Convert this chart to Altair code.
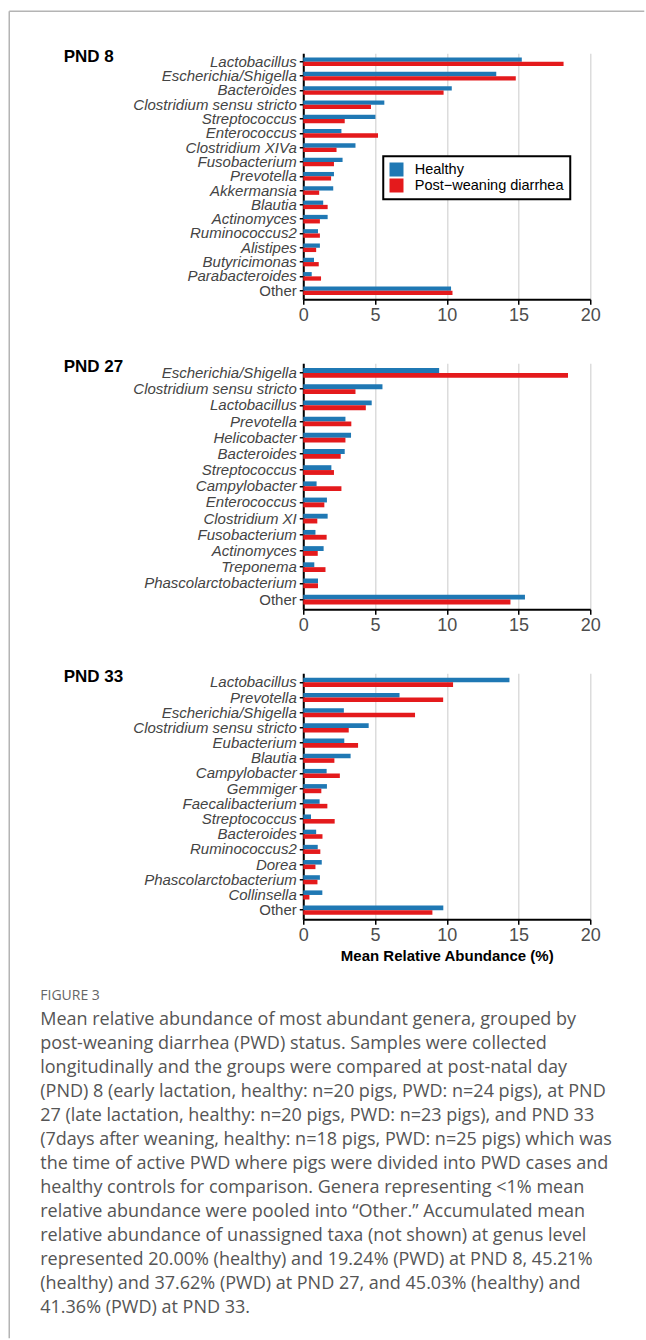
import altair as alt
import pandas as pd

# Group labels (legend order: healthy first, PWD second)
groups = ["Healthy", "Post\u2212weaning diarrhea"]
group_colors = ["#1f78b4", "#e41a1c"]

# PND 8
pnd8_genera = [
    "Lactobacillus", "Escherichia/Shigella", "Bacteroides", "Clostridium sensu stricto",
    "Streptococcus", "Enterococcus", "Clostridium XIVa", "Fusobacterium", "Prevotella",
    "Akkermansia", "Blautia", "Actinomyces", "Ruminococcus2", "Alistipes",
    "Butyricimonas", "Parabacteroides", "Other",
]
pnd8_healthy = [15.23, 13.45, 10.35, 5.65, 5.03, 2.66, 3.64, 2.74, 2.14, 2.09, 1.39, 1.70, 1.03, 1.16, 0.75, 0.59, 10.30]
pnd8_pwd = [18.14, 14.81, 9.78, 4.72, 2.89, 5.21, 2.32, 2.14, 1.94, 1.11, 1.70, 1.16, 1.16, 0.90, 1.08, 1.24, 10.40]

# PND 27
pnd27_genera = [
    "Escherichia/Shigella", "Clostridium sensu stricto", "Lactobacillus", "Prevotella",
    "Helicobacter", "Bacteroides", "Streptococcus", "Campylobacter", "Enterococcus",
    "Clostridium XI", "Fusobacterium", "Actinomyces", "Treponema",
    "Phascolarctobacterium", "Other",
]
pnd27_healthy = [9.47, 5.52, 4.77, 2.94, 3.33, 2.89, 1.96, 0.93, 1.65, 1.70, 0.85, 1.42, 0.77, 1.03, 15.45]
pnd27_pwd = [18.45, 3.64, 4.36, 3.35, 2.94, 2.61, 2.14, 2.66, 1.47, 0.98, 1.63, 1.01, 1.55, 1.03, 14.44]

# PND 33
pnd33_genera = [
    "Lactobacillus", "Prevotella", "Escherichia/Shigella", "Clostridium sensu stricto",
    "Eubacterium", "Blautia", "Campylobacter", "Gemmiger", "Faecalibacterium",
    "Streptococcus", "Bacteroides", "Ruminococcus2", "Dorea", "Phascolarctobacterium",
    "Collinsella", "Other",
]
pnd33_healthy = [14.37, 6.71, 2.83, 4.56, 2.86, 3.30, 1.63, 1.65, 1.14, 0.54, 0.90, 1.01, 1.29, 1.16, 1.33, 9.76]
pnd33_pwd = [10.44, 9.75, 7.79, 3.17, 3.82, 2.17, 2.55, 1.26, 1.68, 2.19, 1.34, 1.19, 0.85, 0.99, 0.43, 9.00]

x_ticks = [0, 5, 10, 15, 20]

caption_head = "FIGURE 3"
caption_lines = [
    "Mean relative abundance of most abundant genera, grouped by",
    "post-weaning diarrhea (PWD) status. Samples were collected",
    "longitudinally and the groups were compared at post-natal day",
    "(PND) 8 (early lactation, healthy: n=20 pigs, PWD: n=24 pigs), at PND",
    "27 (late lactation, healthy: n=20 pigs, PWD: n=23 pigs), and PND 33",
    "(7days after weaning, healthy: n=18 pigs, PWD: n=25 pigs) which was",
    "the time of active PWD where pigs were divided into PWD cases and",
    "healthy controls for comparison. Genera representing <1% mean",
    "relative abundance were pooled into \u201cOther.\u201d Accumulated mean",
    "relative abundance of unassigned taxa (not shown) at genus level",
    "represented 20.00% (healthy) and 19.24% (PWD) at PND 8, 45.21%",
    "(healthy) and 37.62% (PWD) at PND 27, and 45.03% (healthy) and",
    "41.36% (PWD) at PND 33.",
]

FONT = "Liberation Sans"
CAP_FONT = "Open Sans"
PW, PH = 287, 246


def panel(name, genera, healthy, pwd, show_legend=False, x_title=None):
    df = pd.DataFrame({
        "genus": genera * 2,
        "group": [groups[0]] * len(genera) + [groups[1]] * len(genera),
        "value": healthy + pwd,
    })
    if show_legend:
        legend = alt.Legend(
            title=None, orient="none", legendX=80, legendY=103, direction="vertical",
            symbolType="square", symbolSize=196, symbolStrokeWidth=0, symbolOpacity=1,
            labelFont=FONT, labelFontSize=14.5, labelColor="black", labelOffset=11,
            rowPadding=0, padding=6, strokeColor="black", fillColor="white",
        )
    else:
        legend = None
    x_axis = alt.Axis(
        values=x_ticks, grid=True, gridColor="#dcdcdc", gridWidth=1.5,
        domainColor="black", domainWidth=2, tickColor="black", tickWidth=1.5, tickSize=5,
        labelFont=FONT, labelFontSize=18, labelColor="#4d4d4d", labelPadding=2,
        labelFlush=False, title=x_title, titleFont=FONT, titleFontSize=15,
        titleFontWeight="bold", titleColor="black", titlePadding=4,
    )
    y_axis = alt.Axis(
        title=name, titleAngle=0, titleX=-240, titleY=8, titleAlign="left",
        titleBaseline="alphabetic", titleFont=FONT, titleFontSize=17,
        titleFontWeight="bold", titleColor="black",
        labelFont=FONT, labelFontSize=15, labelColor="#444444", labelPadding=3,
        labelFontStyle={"condition": {"test": "datum.value === 'Other'", "value": "normal"}, "value": "italic"},
        labelLimit=0, tickColor="black", tickSize=4, tickWidth=1.5,
        domainColor="black", domainWidth=2, grid=False,
    )
    return alt.Chart(df).mark_bar().encode(
        x=alt.X("value:Q", scale=alt.Scale(domain=[0, 20], nice=False), axis=x_axis),
        y=alt.Y("genus:N", sort=genera, scale=alt.Scale(paddingInner=0.4, paddingOuter=0.3), axis=y_axis),
        yOffset=alt.YOffset("group:N", sort=groups, scale=alt.Scale(paddingInner=0, paddingOuter=0)),
        color=alt.Color("group:N", sort=groups, scale=alt.Scale(domain=groups, range=group_colors), legend=legend),
    ).properties(width=PW, height=PH)


p1 = panel("PND 8", pnd8_genera, pnd8_healthy, pnd8_pwd, show_legend=True)
p2 = panel("PND 27", pnd27_genera, pnd27_healthy, pnd27_pwd)
p3 = panel("PND 33", pnd33_genera, pnd33_healthy, pnd33_pwd, x_title="Mean Relative Abundance (%)")

# Caption block below the panels, plus the thin page frame
cap_df = pd.DataFrame({"i": list(range(len(caption_lines))), "line": caption_lines})
cap_text = alt.Chart(cap_df).mark_text(
    align="left", baseline="middle", font=CAP_FONT, fontSize=18, color="#555555"
).encode(
    x=alt.value(-263),
    y=alt.Y("i:Q", scale=alt.Scale(domain=[0, len(caption_lines) - 1], range=[37, 37 + 24 * (len(caption_lines) - 1)]), axis=None),
    text="line:N",
)
head = alt.Chart(pd.DataFrame({"t": [caption_head]})).mark_text(
    align="left", baseline="middle", font=CAP_FONT, fontSize=14, color="#666666"
).encode(x=alt.value(-263), y=alt.value(13), text="t:N")

frame_df = pd.DataFrame({"k": [0]})
frame_v = alt.Chart(frame_df).mark_rule(color="#b4b4b4", strokeWidth=1.5).encode(
    x=alt.value(-294), y=alt.value(-972), y2=alt.value(355)
)
frame_h = alt.Chart(frame_df).mark_rule(color="#b4b4b4", strokeWidth=1.5).encode(
    x=alt.value(-294), x2=alt.value(341), y=alt.value(-972)
)
caption = alt.layer(frame_v, frame_h, head, cap_text).properties(width=PW, height=340)

chart = (
    alt.vconcat(p1, p2, p3, caption, spacing=64, bounds="flush")
    .resolve_scale(x="independent", y="independent", yOffset="independent")
    .resolve_legend(color="independent")
    .properties(padding={"left": 8.25, "top": 10.25, "right": 0, "bottom": 0}, background="white")
    .configure_view(strokeWidth=0)
    .configure_legend(strokeWidth=2)
)

chart.save("out.html", embed_options={"renderer": "svg", "actions": False})
